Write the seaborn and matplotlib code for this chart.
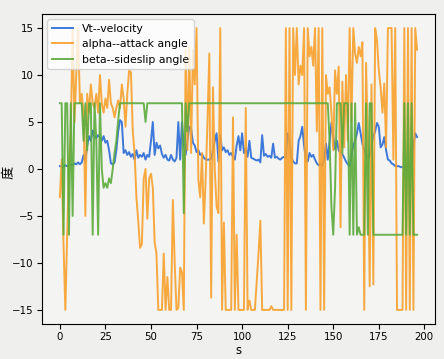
import matplotlib
matplotlib.use("Agg")
import matplotlib.pyplot as plt
import seaborn as sns
import pandas as pd

time_s = list(range(197))

vt = [
    0.3, 0.3, 0.2, 0.4, 0.3, 0.3, 0.5, 0.4, 0.6, 0.5,
    0.7, 0.5, 0.7, 1.5, 0.8, 2.5, 3.5, 3.0, 4.1, 3.5,
    3.3, 3.6, 3.4, 3.0, 3.5, 2.8, 3.0, 2.0, 0.6, 0.5,
    0.7, 2.0, 4.0, 5.2, 5.0, 1.7, 2.0, 1.5, 1.8, 1.3,
    1.6, 1.0, 2.0, 1.2, 1.5, 1.3, 1.7, 1.0, 1.5, 1.3,
    3.0, 5.0, 1.5, 2.8, 2.2, 2.5, 1.6, 1.2, 1.5, 1.0,
    0.9, 1.5, 1.0, 0.8, 1.2, 5.0, 1.0, 5.0, 2.5, 1.5,
    3.0, 4.5, 4.3, 2.8, 2.5, 1.8, 2.0, 1.5, 1.6, 1.2,
    1.0, 1.0, 1.0, 1.1, 2.0, 3.0, 3.8, 0.8, 3.6, 2.0,
    2.3, 1.8, 2.0, 1.5, 1.7, 1.3, 1.0, 2.5, 3.5, 2.0,
    3.8, 1.7, 2.2, 1.3, 3.0, 1.2, 1.1, 1.0, 0.9, 1.0,
    0.7, 3.6, 1.4, 1.6, 1.3, 1.4, 1.2, 2.7, 1.2, 1.3,
    1.1, 1.0, 1.2, 1.3, 1.2, 3.8, 3.0, 1.2, 0.8, 0.6,
    0.6, 3.0, 3.5, 4.5, 2.5, 1.0, 0.8, 1.7, 1.3, 1.5,
    1.0, 0.6, 0.4, 0.5, 0.3, 1.0, 2.7, 1.0, 3.0, 4.9,
    3.5, 2.1, 3.0, 2.0, 1.7, 1.6, 1.2, 0.8, 0.5, 0.3,
    1.5, 2.5, 3.0, 3.8, 4.9, 3.8, 2.7, 2.0, 1.5, 1.2,
    1.5, 2.5, 3.5, 4.0, 4.9, 4.5, 2.3, 2.6, 3.4, 2.0,
    1.0, 0.9, 0.6, 0.5, 0.3, 0.3, 0.3, 0.2, 0.2, 0.3,
    0.3, 0.4, 0.3, 0.5, 2.5, 3.8, 3.4,
]

alpha = [
    -3, 1, -8, -15, -7, 0, 4, 15, 5, 10,
    15, 7, 8, 6, -5, 8, 6, 9, 7, 6.5,
    8, 6, 10, 7, 6, 7.5, 6.5, 9.5, 7, 6.5,
    5.5, 6.5, 7.3, 6.5, 9, 7.5, 4.5, 8, 10.5, 10.3,
    4, 1.7, -3, -5.5, -8.4, -8, -1, 0, -5.3, -1,
    -0.5, -2, -7.8, -9, -15, -15, -15, -9, -15, -11.5,
    -15, -15, -3.3, -10, -15, -14.8, -10.5, -11, -15, 12.7,
    2, 13, 1.7, 12.7, 9, 15, -1.2, -3, 1.7, -5.8,
    -1, 5, 12.3, -13.7, 8.7, -0.1, -4, -4.7, 15, -15,
    -5.7, -15, -15, -15, -15, 5.5, -15, -7, -15, -15,
    -15, -15, 6.5, -15, -14, -15, -15, -15, -12, -9,
    -5.5, -15, -15, -15, -15, -15, -14.6, -15, -15, -15,
    -15, -15, -15, -15, 15, -15, 15, -15, 15, 10,
    15, 9, 11, 10, 15, -15, 15, 12, 13, 11,
    15, 4, 15, -15, 15, -15, 10, 8, 8.7, 6,
    2, 10.5, 8, 10.9, -6.2, 9.3, 2.3, 10, 3, 15,
    5, 15, 12.3, 11.3, 13, 12, 13.5, -15, 11.3, 3,
    -12.5, 9, -12.3, 15, 13.7, 10.5, 8.7, 6, 9.1, 2.3,
    15, 15, 15, 1, 15, -15, -15, -15, -15, 15,
    -15, 15, -15, 15, -15, 15, 12.7,
]

beta = [
    7, 7, -7, 7, 7, -7, 7, -5, 7, 7,
    7, 7, 7, 3, 7, 2, 7, 7, -7, 7,
    3, -7, 7, 0, -2, -1.5, -2, -1, -1.5, 0,
    1.7, 3, 5.2, 7, 7, 7, 7, 7, 7, 7,
    7, 7, 7, 7, 7, 7, 7, 5, 7, 7,
    7, 7, 7, 7, 7, 7, 7, 7, 7, 7,
    7, 7, 7, 7, 7, 7, 7, 7, -4.7, 7,
    4, 7, 7, 7, 7, 7, 7, 7, 7, 7,
    7, 7, 7, 7, 7, 7, 7, 7, 7, 7,
    7, 7, 7, 7, 7, 7, 7, 7, 7, 7,
    7, 7, 7, 7, 7, 7, 7, 7, 7, 7,
    7, 7, 7, 7, 7, 7, 7, 7, 7, 7,
    7, 7, 7, 7, 7, 7, 7, 7, 7, 7,
    7, 7, 7, 7, 7, 7, 7, 7, 7, 7,
    7, 7, 7, 7, 7, 7, 7, 7, 3, -4,
    -7, -2, 7, 7, 7, 1.7, 7, 7, 7, -7,
    7, -7, 7, -7, -6.2, -7, -7, -7, 7, -7,
    7, 7, -7, -7, -7, -7, -7, -7, -7, -7,
    -7, -7, -7, -7, -7, -7, -7, -7, -7, 7,
    -7, 7, -7, 7, -7, -7, -7,
]

labels = ["Vt--velocity", "alpha--attack angle", "beta--sideslip angle"]
colors = ["#2a6bd6", "#f8a12c", "#5bab3b"]

plt.rcParams["font.family"] = ["DejaVu Sans", "Noto Sans CJK SC"]
plt.rcParams["font.size"] = 7.8

fig = plt.figure(figsize=(4.44, 3.59), dpi=100, facecolor="#efefed")
ax = fig.add_axes([0.0946, 0.0975, 0.885, 0.8635])
ax.set_facecolor("#f4f4f2")

for series, lab, col in zip([vt, alpha, beta], labels, colors):
    sns.lineplot(x=time_s, y=series, ax=ax, color=col, label=lab,
                 linewidth=1.4, alpha=0.9)

ax.set_xticks([0, 25, 50, 75, 100, 125, 150, 175, 200])
ax.set_yticks([-15, -10, -5, 0, 5, 10, 15])
ax.tick_params(labelsize=7.4, length=3.5, pad=2.5)
ax.set_xlabel("s", fontsize=8.5, labelpad=1)
ax.set_ylabel("度", family=["Noto Sans CJK SC", "DejaVu Sans"], fontsize=9.5)
ax.yaxis.set_label_coords(-0.066, 0.49)
ax.legend(loc="upper left", fontsize=7.8)
fig.savefig("out.png", dpi=100, facecolor=fig.get_facecolor())
